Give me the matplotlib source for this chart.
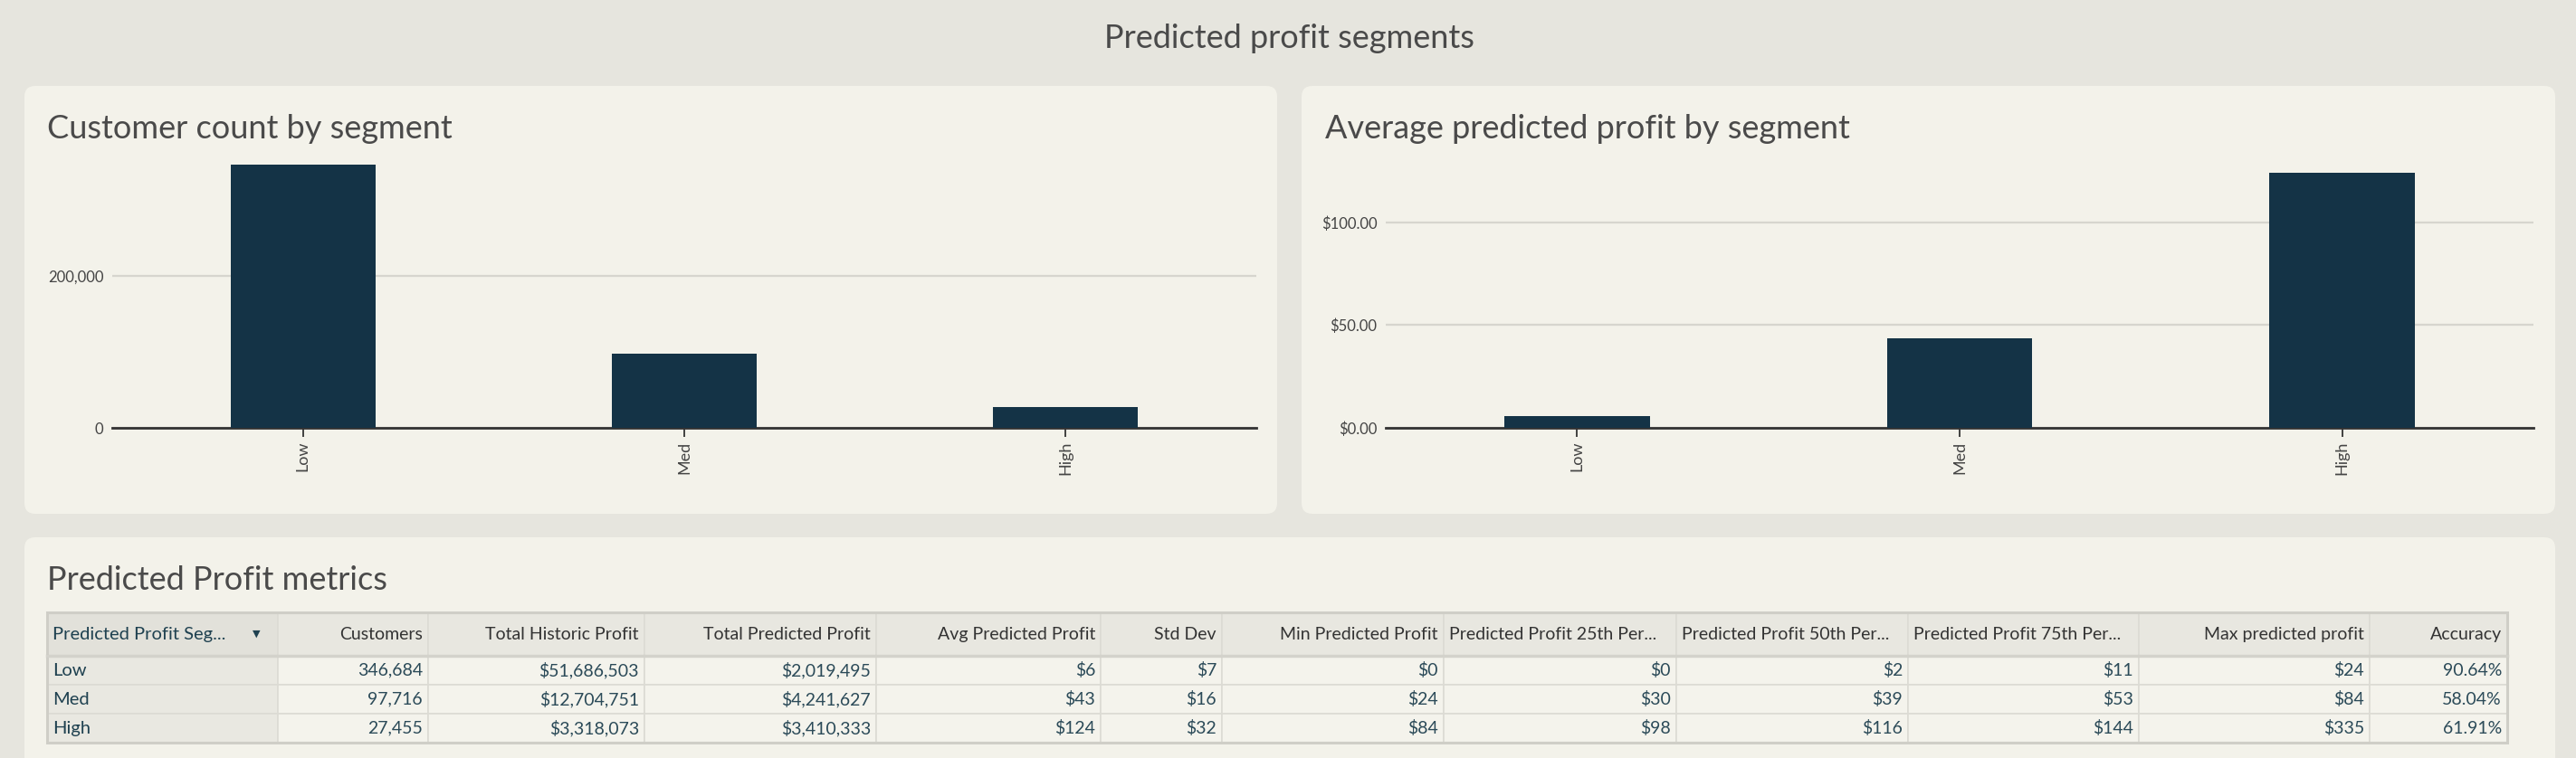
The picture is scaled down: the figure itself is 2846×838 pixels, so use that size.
import matplotlib
matplotlib.use('Agg')
import matplotlib.pyplot as plt
from matplotlib.patches import FancyBboxPatch, Rectangle
from matplotlib.ticker import FuncFormatter, FixedLocator

W, H = 2846, 838

# ---------------- data ----------------
segments = ['Low', 'Med', 'High']
customers = [346684, 97716, 27455]
avg_profit = [5.83, 43.41, 124.21]

table_columns = ['Predicted Profit Seg...', 'Customers', 'Total Historic Profit',
                 'Total Predicted Profit', 'Avg Predicted Profit', 'Std Dev',
                 'Min Predicted Profit', 'Predicted Profit 25th Per...',
                 'Predicted Profit 50th Per...', 'Predicted Profit 75th Per...',
                 'Max predicted profit', 'Accuracy']
row_low = ['Low', '346,684', '$51,686,503', '$2,019,495', '$6', '$7', '$0', '$0', '$2', '$11', '$24', '90.64%']
row_med = ['Med', '97,716', '$12,704,751', '$4,241,627', '$43', '$16', '$24', '$30', '$39', '$53', '$84', '58.04%']
row_high = ['High', '27,455', '$3,318,073', '$3,410,333', '$124', '$32', '$84', '$98', '$116', '$144', '$335', '61.91%']
table_rows = [row_low, row_med, row_high]

# ---------------- style ----------------
OUTER = '#E6E5DE'
PANEL = '#F3F2EA'
BAR = '#143346'
GRID = '#D6D5CE'
AXIS = '#333333'
TEAL = '#2B4A58'
TITLE_FONT = ['Lato', 'DejaVu Sans']
BODY_FONT = ['Lato', 'DejaVu Sans']

fig = plt.figure(figsize=(W / 100, H / 100), dpi=100, facecolor=OUTER)

bg = fig.add_axes([0, 0, 1, 1], zorder=0)
bg.set_xlim(0, W)
bg.set_ylim(H, 0)
bg.axis('off')


def panel(x0, y0, x1, y1):
    bg.add_patch(FancyBboxPatch((x0, y0), x1 - x0, y1 - y0,
                                boxstyle='round,pad=0,rounding_size=12',
                                facecolor=PANEL, edgecolor='none'))


panel(27, 95, 1411, 568)
panel(1438, 95, 2823, 568)
panel(27, 594, 2823, 870)

TITLE_KW = dict(fontsize=26, fontweight='normal', color='#4a4a4a', family=TITLE_FONT)
bg.text(1424, 53, 'Predicted profit segments', ha='center', va='baseline', **TITLE_KW)
bg.text(52, 153, 'Customer count by segment', ha='left', va='baseline', **TITLE_KW)
bg.text(1464, 153, 'Average predicted profit by segment', ha='left', va='baseline', **TITLE_KW)
bg.text(52, 652, 'Predicted Profit metrics', ha='left', va='baseline', **TITLE_KW)


def px_axes(x0, y0, x1, y1):
    return fig.add_axes([x0 / W, 1 - y1 / H, (x1 - x0) / W, (y1 - y0) / H], zorder=2)


def style_bar_axes(ax, ticks, fmt, top):
    ax.set_facecolor('none')
    for s in ['top', 'right', 'left']:
        ax.spines[s].set_visible(False)
    ax.spines['bottom'].set_color(AXIS)
    ax.spines['bottom'].set_linewidth(2)
    ax.set_xlim(-0.5, 2.5)
    ax.set_ylim(0, top)
    ax.yaxis.set_major_locator(FixedLocator(ticks))
    ax.yaxis.set_major_formatter(FuncFormatter(fmt))
    ax.yaxis.grid(True, color=GRID, linewidth=1.6)
    ax.set_axisbelow(True)
    ax.tick_params(axis='y', length=0, pad=7, labelsize=12, labelcolor='#444444')
    ax.tick_params(axis='x', length=7, width=1.3, color=AXIS, pad=3.5,
                   labelsize=13, labelcolor='#444444', labelrotation=90)
    for lab in ax.get_yticklabels() + ax.get_xticklabels():
        lab.set_family(BODY_FONT)


ax1 = px_axes(124, 181, 1388, 473)
ax1.bar(segments, customers, width=0.38, color=BAR, zorder=3)
style_bar_axes(ax1, [0, 200000], lambda v, p: f'{v:,.0f}', 347600)

ax2 = px_axes(1531, 181, 2799, 473)
ax2.bar(segments, avg_profit, width=0.38, color=BAR, zorder=3)
style_bar_axes(ax2, [0, 50, 100], lambda v, p: f'${v:,.2f}', 128.6)

# ---------------- table ----------------
col_x = [52, 307, 473, 712, 968, 1216, 1350, 1595, 1852, 2108, 2363, 2618, 2770]
row_y = [677, 725, 757, 789, 821]
HEADER_BG = '#E8E7E0'
FIRST_HEADER_BG = '#E2E1DA'
FIRST_COL_BG = '#E9E8E1'
CELL_BG = '#F4F3EC'
LINE = '#DCDBD4'
BORDER = '#CFCEC7'

for ci in range(len(table_columns)):
    x0, x1 = col_x[ci], col_x[ci + 1]
    for ri in range(len(row_y) - 1):
        y0, y1 = row_y[ri], row_y[ri + 1]
        if ri == 0:
            fc = FIRST_HEADER_BG if ci == 0 else HEADER_BG
        else:
            fc = FIRST_COL_BG if ci == 0 else CELL_BG
        bg.add_patch(Rectangle((x0, y0), x1 - x0, y1 - y0, facecolor=fc,
                               edgecolor=LINE, linewidth=1.2))

# thicker header bottom and outer border
bg.plot([col_x[0], col_x[-1]], [row_y[1], row_y[1]], color='#D3D2CB', lw=2.5)
bg.add_patch(Rectangle((col_x[0], row_y[0]), col_x[-1] - col_x[0], row_y[-1] - row_y[0],
                       facecolor='none', edgecolor=BORDER, linewidth=2.2))

PAD = 6
for ci, name in enumerate(table_columns):
    x0, x1 = col_x[ci], col_x[ci + 1]
    yc = (row_y[0] + row_y[1]) / 2
    if ci == 0:
        bg.text(x0 + PAD, yc, name, ha='left', va='center', fontsize=14.5,
                color='#1F4150', family=BODY_FONT)
        bg.text(283, yc, '▼', ha='center', va='center', fontsize=8,
                color='#1F4150', family=['DejaVu Sans'])
    elif name.endswith('...'):
        bg.text(x0 + PAD, yc, name, ha='left', va='center', fontsize=14,
                color='#333333', family=BODY_FONT)
    else:
        bg.text(x1 - PAD, yc, name, ha='right', va='center', fontsize=14,
                color='#333333', family=BODY_FONT)

for ri, row in enumerate(table_rows):
    y0, y1 = row_y[ri + 1], row_y[ri + 2]
    yc = (y0 + y1) / 2
    for ci, val in enumerate(row):
        x0, x1 = col_x[ci], col_x[ci + 1]
        if ci == 0:
            bg.text(x0 + PAD, yc, val, ha='left', va='center', fontsize=14.5,
                    color='#1F4150', family=BODY_FONT)
        else:
            bg.text(x1 - PAD, yc, val, ha='right', va='center', fontsize=14,
                    color=TEAL, family=BODY_FONT)

fig.savefig('out.png', dpi=100, facecolor=OUTER)
